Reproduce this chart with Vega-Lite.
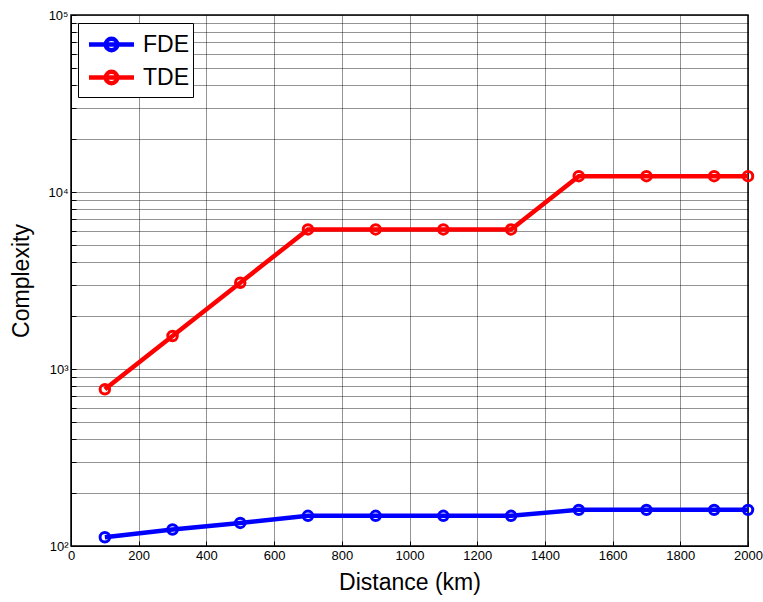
{
  "$schema": "https://vega.github.io/schema/vega-lite/v6.json",
  "autosize": "none",
  "width": 677,
  "height": 531,
  "padding": {"left": 71, "top": 15, "right": 15, "bottom": 56},
  "background": "white",
  "config": {
    "font": "Liberation Sans",
    "view": {"stroke": "black", "strokeWidth": 1.5},
    "axis": {
      "labelFont": "Liberation Sans",
      "titleFont": "Liberation Sans",
      "labelColor": "black",
      "titleColor": "black",
      "labelFontSize": 13,
      "titleFontSize": 23,
      "titleFontWeight": "normal",
      "domainColor": "black",
      "tickColor": "black",
      "tickSize": -5,
      "gridColor": "black",
      "gridDash": [1, 1],
      "gridOpacity": 0.85,
      "gridWidth": 1
    }
  },
  "data": {
    "values": [
      {"distance": 100, "complexity": 112, "method": "FDE"},
      {"distance": 300, "complexity": 124, "method": "FDE"},
      {"distance": 500, "complexity": 135, "method": "FDE"},
      {"distance": 700, "complexity": 148, "method": "FDE"},
      {"distance": 900, "complexity": 148, "method": "FDE"},
      {"distance": 1100, "complexity": 148, "method": "FDE"},
      {"distance": 1300, "complexity": 148, "method": "FDE"},
      {"distance": 1500, "complexity": 160, "method": "FDE"},
      {"distance": 1700, "complexity": 160, "method": "FDE"},
      {"distance": 1900, "complexity": 160, "method": "FDE"},
      {"distance": 2000, "complexity": 160, "method": "FDE"},
      {"distance": 100, "complexity": 768, "method": "TDE"},
      {"distance": 300, "complexity": 1536, "method": "TDE"},
      {"distance": 500, "complexity": 3072, "method": "TDE"},
      {"distance": 700, "complexity": 6144, "method": "TDE"},
      {"distance": 900, "complexity": 6144, "method": "TDE"},
      {"distance": 1100, "complexity": 6144, "method": "TDE"},
      {"distance": 1300, "complexity": 6144, "method": "TDE"},
      {"distance": 1500, "complexity": 12288, "method": "TDE"},
      {"distance": 1700, "complexity": 12288, "method": "TDE"},
      {"distance": 1900, "complexity": 12288, "method": "TDE"},
      {"distance": 2000, "complexity": 12288, "method": "TDE"}
    ]
  },
  "encoding": {
    "x": {
      "field": "distance",
      "type": "quantitative",
      "scale": {"domain": [0, 2000], "nice": false, "zero": false},
      "axis": {
        "title": "Distance (km)",
        "values": [0, 200, 400, 600, 800, 1000, 1200, 1400, 1600, 1800, 2000],
        "format": "d",
        "labelPadding": 8,
        "titlePadding": 9,
        "labelFlush": false
      }
    },
    "y": {
      "field": "complexity",
      "type": "quantitative",
      "scale": {"type": "log", "domain": [100, 100000], "nice": false},
      "axis": {
        "title": "Complexity",
        "values": [100, 200, 300, 400, 500, 600, 700, 800, 900, 1000, 2000, 3000, 4000, 5000, 6000, 7000, 8000, 9000, 10000, 20000, 30000, 40000, 50000, 60000, 70000, 80000, 90000, 100000],
        "labelExpr": "datum.value == 100 ? '10²' : datum.value == 1000 ? '10³' : datum.value == 10000 ? '10⁴' : datum.value == 100000 ? '10⁵' : ''",
        "labelPadding": 8,
        "titlePadding": 14,
        "labelFlush": false,
        "labelOverlap": false
      }
    },
    "color": {
      "field": "method",
      "type": "nominal",
      "scale": {"domain": ["FDE", "TDE"], "range": ["#0000ff", "#ff0000"]},
      "legend": {
        "title": null,
        "orient": "none",
        "legendX": 7,
        "legendY": 8,
        "strokeColor": "black",
        "fillColor": "white",
        "padding": 4,
        "labelFontSize": 23,
        "labelFont": "Liberation Sans",
        "labelColor": "black",
        "symbolType": "M-1.5,0L1.5,0M0.38,0A0.38,0.38 0 1,1 -0.38,0A0.38,0.38 0 1,1 0.38,0",
        "symbolSize": 900,
        "symbolStrokeWidth": 4.5,
        "rowPadding": 0,
        "labelOffset": 14,
        "symbolOffset": 12
      }
    }
  },
  "layer": [
    {"mark": {"type": "line", "strokeWidth": 4.5}},
    {"mark": {"type": "point", "filled": false, "size": 90, "strokeWidth": 3, "opacity": 1}}
  ]
}
